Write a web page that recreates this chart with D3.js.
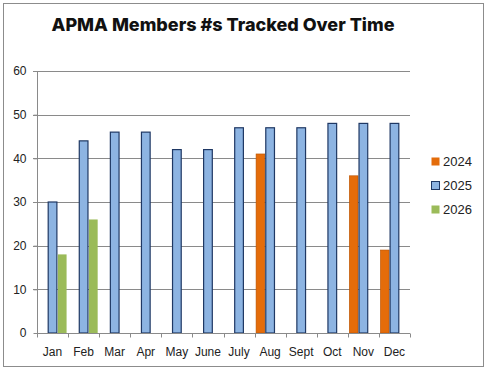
<!DOCTYPE html>
<html>
<head>
<meta charset="utf-8">
<script src="https://cdn.jsdelivr.net/npm/d3@7"></script>
<style>
  body { margin: 0; background: #fff; }
  text { font-family: "Liberation Sans", Arial, sans-serif; }
</style>
</head>
<body>
<div id="chart"></div>
<script>
var w = 487,
	h = 370;

// Data
var months = ["Jan","Feb","Mar","Apr","May","June","July","Aug","Sept","Oct","Nov","Dec"];
var seriesNames = ["2024","2025","2026"];
var v2024 = [null,null,null,null,null,null,null,41,null,null,36,19];
var v2025 = [30,44,46,46,42,42,47,47,47,48,48,48];
var v2026 = [18,26,null,null,null,null,null,null,null,null,null,null];
var yTicks = [0,10,20,30,40,50,60];

var colors = { "2024": "#e46c0a", "2025": "#8db4e2", "2026": "#9bbb59" };
var strokes = { "2024": "#b85200", "2025": "#1f3864", "2026": "none" };

var rows = [];
[v2024, v2025, v2026].forEach(function(arr, s) {
	arr.forEach(function(v, i) {
		if (v != null) rows.push({ month: months[i], series: seriesNames[s], value: v });
	});
});

var plot = { left: 37, right: 410, top: 71, bottom: 333 };

var svg = d3.select("#chart").append("svg")
	.attr("width", w)
	.attr("height", h);

// chart frame
svg.append("rect")
	.attr("x", 3.5).attr("y", 3.5)
	.attr("width", 480).attr("height", 363)
	.attr("fill", "#fff")
	.attr("stroke", "#8c8c8c");

var x0 = d3.scaleBand().domain(months).range([plot.left, plot.right]);
var x1 = d3.scaleBand().domain(seriesNames).range([1, x0.bandwidth() - 1]);
var y = d3.scaleLinear().domain([0, 60]).range([plot.bottom, plot.top]);

// gridlines
svg.append("g").selectAll("line")
	.data(yTicks.slice(1))
	.enter().append("line")
	.attr("x1", plot.left - 4).attr("x2", plot.right)
	.attr("y1", function(d) { return Math.round(y(d)) + 0.5; })
	.attr("y2", function(d) { return Math.round(y(d)) + 0.5; })
	.attr("stroke", "#8a8a8a");

// bars
svg.append("g").selectAll("rect")
	.data(rows)
	.enter().append("rect")
	.attr("x", function(d) { return x0(d.month) + x1(d.series) + 0.5; })
	.attr("y", function(d) { return y(d.value); })
	.attr("width", x1.bandwidth() - 1)
	.attr("height", function(d) { return y(0) - y(d.value); })
	.attr("fill", function(d) { return colors[d.series]; })
	.attr("stroke", function(d) { return strokes[d.series]; })
	.attr("stroke-width", function(d) { return d.series == "2024" ? 0.6 : 1.2; });

// y axis
var yAxis = svg.append("g")
	.attr("transform", "translate(" + (plot.left + 0.5) + ",0)")
	.call(d3.axisLeft(y).tickValues(yTicks).tickSize(4).tickPadding(7));
yAxis.selectAll("path, line").attr("stroke", "#8a8a8a");
yAxis.selectAll("text").attr("font-size", "12px").attr("fill", "#222")
	.style("font-family", "'Liberation Sans', Arial, sans-serif");
yAxis.select(".domain").attr("d", "M0," + plot.top + "V" + plot.bottom);

// x axis
var xg = svg.append("g")
	.attr("transform", "translate(0," + (plot.bottom + 0.5) + ")");
xg.append("line")
	.attr("x1", plot.left).attr("x2", plot.right)
	.attr("stroke", "#8a8a8a");
xg.selectAll(".tk")
	.data(months.concat(["end"]))
	.enter().append("line")
	.attr("x1", function(d, i) { return Math.round(plot.left + i * x0.step()) + 0.5; })
	.attr("x2", function(d, i) { return Math.round(plot.left + i * x0.step()) + 0.5; })
	.attr("y1", 0).attr("y2", 4)
	.attr("stroke", "#8a8a8a");
xg.selectAll("text")
	.data(months)
	.enter().append("text")
	.attr("x", function(d) { return x0(d) + x0.bandwidth() / 2; })
	.attr("y", 22)
	.attr("text-anchor", "middle")
	.attr("font-size", "12px")
	.attr("fill", "#222")
	.text(function(d) { return d; });

// title
svg.append("text")
	.attr("x", 223)
	.attr("y", 31)
	.attr("text-anchor", "middle")
	.attr("font-size", "18px")
	.attr("font-weight", "800")
	.attr("fill", "#111")
	.style("font-family", "Inter, 'Noto Sans', sans-serif")
	.text("APMA Members #s Tracked Over Time");

// legend
var legend = svg.append("g")
	.attr("transform", "translate(431,0)");
legend.selectAll("rect")
	.data(seriesNames)
	.enter().append("rect")
	.attr("x", 0.5)
	.attr("y", function(d, i) { return 157.5 + i * 24; })
	.attr("width", 8).attr("height", 8)
	.attr("fill", function(d) { return colors[d]; })
	.attr("stroke", function(d) { return d == "2025" ? "#1f3864" : "none"; });
legend.selectAll("text")
	.data(seriesNames)
	.enter().append("text")
	.attr("x", 12)
	.attr("y", function(d, i) { return 166 + i * 24; })
	.attr("font-size", "13px")
	.attr("fill", "#222")
	.text(function(d) { return d; });
</script>
</body>
</html>
